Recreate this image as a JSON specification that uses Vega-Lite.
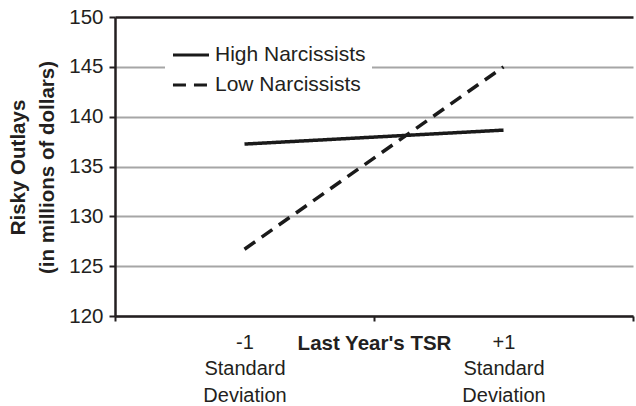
{
  "$schema": "https://vega.github.io/schema/vega-lite/v6.json",
  "width": 518,
  "height": 299,
  "autosize": {"type": "none"},
  "padding": {"left": 115, "top": 17, "right": 3, "bottom": 90},
  "background": "white",
  "config": {
    "font": "Liberation Sans",
    "view": {"stroke": null},
    "axis": {"labelColor": "#231f20", "titleColor": "#231f20", "domainColor": "#231f20", "tickColor": "#231f20"}
  },
  "data": {
    "values": [
      {"tsr": "-1 Standard Deviation", "group": "High Narcissists", "outlays": 137.25},
      {"tsr": "+1 Standard Deviation", "group": "High Narcissists", "outlays": 138.65},
      {"tsr": "-1 Standard Deviation", "group": "Low Narcissists", "outlays": 126.7},
      {"tsr": "+1 Standard Deviation", "group": "Low Narcissists", "outlays": 145.0}
    ]
  },
  "mark": {"type": "line", "color": "#1a1a1a", "strokeWidth": 3.5, "strokeCap": "butt"},
  "encoding": {
    "x": {
      "field": "tsr",
      "type": "nominal",
      "sort": ["-1 Standard Deviation", "+1 Standard Deviation"],
      "scale": {"paddingInner": 0, "paddingOuter": 0},
      "axis": {
        "title": "Last Year's TSR",
        "titleFontSize": 20.5,
        "titleFontWeight": "bold",
        "titleBaseline": "middle",
        "titleY": 27,
        "labelExpr": "isValid(datum.value) ? split(datum.value, ' ') : ''",
        "labelFontSize": 20,
        "labelLineHeight": 26.5,
        "labelBaseline": "top",
        "labelAngle": 0,
        "labelPadding": 11,
        "tickBand": "extent",
        "tickSize": 5,
        "tickWidth": 2,
        "domainWidth": 2.5,
        "grid": false
      }
    },
    "y": {
      "field": "outlays",
      "type": "quantitative",
      "scale": {"domain": [120, 150], "nice": false, "zero": false},
      "axis": {
        "values": [120, 125, 130, 135, 140, 145, 150],
        "title": ["Risky Outlays", "(in millions of dollars)"],
        "titleFontSize": 20.5,
        "titleFontWeight": "bold",
        "titleLineHeight": 29,
        "titleBaseline": "middle",
        "titleX": -97,
        "titleY": 150,
        "labelFontSize": 20.5,
        "labelPadding": 6,
        "tickSize": 6,
        "tickWidth": 2,
        "domainWidth": 2.5,
        "grid": true,
        "gridColor": {"condition": {"test": "datum.value == 150", "value": "#231f20"}, "value": "#a6a6a6"},
        "gridWidth": {"condition": {"test": "datum.value == 150", "value": 2.5}, "value": 2}
      }
    },
    "strokeDash": {
      "field": "group",
      "type": "nominal",
      "scale": {"domain": ["High Narcissists", "Low Narcissists"], "range": [[1, 0], [13, 8]]},
      "legend": {
        "title": null,
        "orient": "none",
        "legendX": 50,
        "legendY": 12,
        "fillColor": "white",
        "padding": 6,
        "symbolType": "stroke",
        "symbolSize": 1300,
        "symbolStrokeWidth": 3,
        "symbolStrokeColor": "#1a1a1a",
        "labelFontSize": 21,
        "labelColor": "#231f20",
        "labelOffset": 4,
        "rowPadding": -8
      }
    }
  }
}
